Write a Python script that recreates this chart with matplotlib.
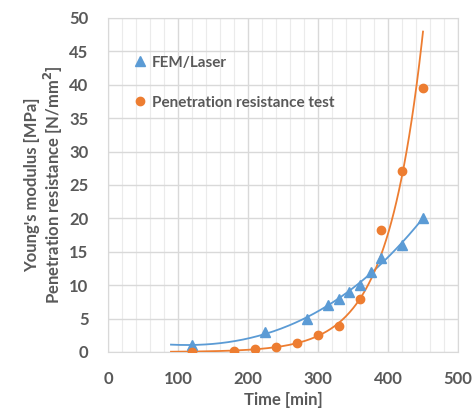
import numpy as np
import matplotlib.pyplot as plt
from matplotlib.ticker import MultipleLocator

# FEM/Laser (Young's modulus)
fem_t = [120, 225, 285, 315, 330, 345, 360, 375, 390, 420, 450]
fem_e = [1.0, 3.0, 5.0, 7.0, 8.0, 9.0, 10.0, 12.0, 14.0, 16.0, 20.0]

# penetration resistance test
pen_t = [120, 180, 210, 240, 270, 300, 330, 360, 390, 420, 450]
pen_r = [0.065, 0.2, 0.4, 0.8, 1.4, 2.5, 3.9, 7.9, 18.3, 27.1, 39.5]

trend_start = 90
trend_end = 450

blue = '#5B9BD5'
orange = '#ED7D31'
grey = '#595959'

plt.rcParams['font.family'] = ['Lato', 'DejaVu Sans']
plt.rcParams['font.weight'] = 'bold'


def exp_trend(t, y):
	# excel style exponential trendline: fit on log(y)
	b, ln_a = np.polyfit(t, np.log(y), 1)
	xs = np.linspace(trend_start, trend_end, 200)
	return xs, np.exp(ln_a) * np.exp(b * xs)


def poly_trend(t, y):
	c = np.polyfit(t, y, 3)
	xs = np.linspace(trend_start, trend_end, 200)
	return xs, np.polyval(c, xs)


fig = plt.figure(figsize=(4.73, 4.08), dpi=100)
ax = fig.add_axes([0.2283, 0.1373, 0.740, 0.8186])

xs, ys = poly_trend(fem_t, fem_e)
ax.plot(xs, ys, color=blue, lw=1.3, zorder=3)
xs, ys = exp_trend(pen_t, pen_r)
ax.plot(xs, ys, color=orange, lw=1.3, zorder=3)

ax.plot(fem_t, fem_e, '^', color=blue, ms=7, ls='none', label='FEM/Laser', zorder=4)
ax.plot(pen_t, pen_r, 'o', color=orange, ms=6, ls='none', label='Penetration resistance test', zorder=4)

ax.set_xlim(0, 500)
ax.set_ylim(0, 50)
ax.xaxis.set_major_locator(MultipleLocator(100))
ax.xaxis.set_minor_locator(MultipleLocator(20))
ax.yaxis.set_major_locator(MultipleLocator(5))
ax.grid(True, which='major', color='#D9D9D9', lw=1.0)
ax.grid(True, which='minor', axis='x', color='#EBEBEB', lw=0.8)
ax.set_axisbelow(True)
for s in ax.spines.values():
	s.set_color('#D9D9D9')

ax.tick_params(which='both', length=0, labelsize=12, colors=grey)
ax.tick_params(axis='y', pad=14)
ax.tick_params(axis='x', pad=14)
for lbl in ax.get_xticklabels() + ax.get_yticklabels():
	lbl.set_fontweight('bold')

ax.set_xlabel('Time [min]', fontsize=12, color=grey, fontweight='bold', labelpad=3)
ax.set_ylabel("Young's modulus [MPa]\nPenetration resistance [N/mm$^2$]",
	fontsize=12, color=grey, fontweight='bold', labelpad=3, linespacing=1.1)

leg = ax.legend(loc='upper left', bbox_to_anchor=(0.039, 0.928), frameon=False,
	handlelength=0.6, handletextpad=0.5, labelspacing=1.7, fontsize=11)
for t in leg.get_texts():
	t.set_color(grey)
	t.set_fontweight('bold')

fig.savefig('out.png', dpi=100)
